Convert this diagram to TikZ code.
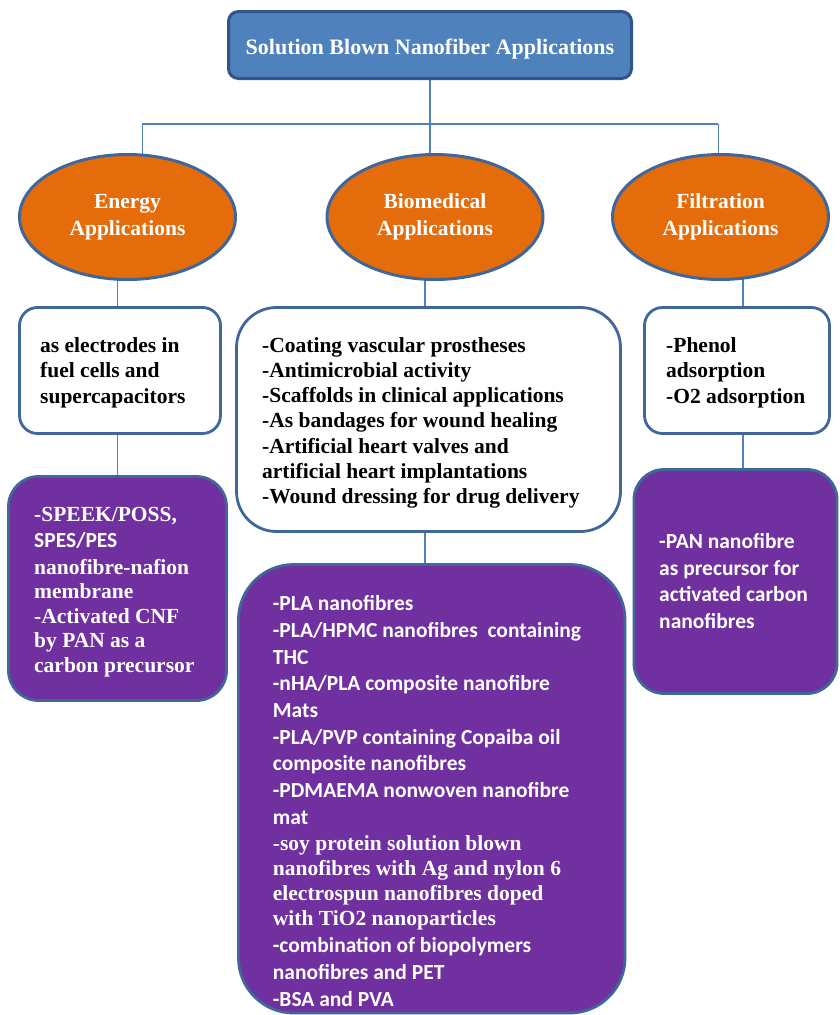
\documentclass[tikz,border=0pt]{standalone}
\usepackage{fontspec}
\setmainfont{Liberation Serif}
\newfontfamily\cali{Carlito}
\usetikzlibrary{shapes.geometric,backgrounds}
\definecolor{headblue}{HTML}{4F81BD}
\definecolor{headrim}{HTML}{30558C}
\definecolor{rim}{HTML}{41679A}
\definecolor{appor}{HTML}{E46C0A}
\definecolor{fibre}{HTML}{7030A0}
\definecolor{linkblue}{HTML}{4F81BD}
\tikzset{
    head/.style={draw=headrim,fill=headblue,line width=3pt,rounded corners=10pt,
        minimum width=403pt,minimum height=67pt,text=white,
        text height=18pt,text depth=0pt,
        font=\bfseries\fontsize{22}{26}\selectfont},
    app/.style={ellipse,draw=rim,fill=appor,line width=3pt,inner sep=0pt,
        minimum width=216pt,minimum height=125pt,text=white,align=center,
        font=\bfseries\fontsize{21.5}{26.7}\selectfont},
    usebox/.style={draw=rim,fill=white,line width=2.8pt},
    fibrebox/.style={draw=rim,fill=fibre,line width=2.8pt},
    txt/.style={anchor=base west,inner sep=0pt,align=left,
        font=\bfseries\fontsize{21.5}{25}\selectfont},
    wire/.style={draw=linkblue,line width=1.6pt}
}

\begin{document}
\begin{tikzpicture}[x=1pt,y=-1pt]
        \useasboundingbox (0,0) rectangle (839,1015);
        \clip (0,0) rectangle (839,1015);
        \node[head] (top) at (430,45) {Solution Blown Nanofiber Applications};
        \node[app] (energy) at (127.5,217) {Energy\\Applications};
        \node[app] (bio) at (435,217) {Biomedical\\Applications};
        \node[app] (filt) at (720.5,217) {Filtration\\Applications};
        \node[usebox,rounded corners=18pt,minimum width=201pt,
        minimum height=126pt] (ew) at (120,370.5) {};
        \node[usebox,rounded corners=40pt,minimum width=384pt,
        minimum height=224pt] (bw) at (428.5,419.5) {};
        \node[usebox,rounded corners=18pt,minimum width=185pt,
        minimum height=126pt] (fw) at (737,370.5) {};
        \node[fibrebox,rounded corners=30pt,minimum width=218pt,
        minimum height=224pt] (ep) at (117.5,588.5) {};
        \node[fibrebox,rounded corners=55pt,minimum width=386.5pt,
        minimum height=448.5pt] (bp) at (431.75,788.75) {};
        \node[fibrebox,rounded corners=30pt,minimum width=203pt,
        minimum height=224pt] (fp) at (735.5,581.5) {};
        \node[txt,font=\bfseries\fontsize{21.5}{25.5}\selectfont] (ewtext) at (40,403)
        {as electrodes in\\fuel cells and\\supercapacitors};
        \node[txt,font=\bfseries\fontsize{21.5}{25.3}\selectfont] (bwtext) at (262,503.8)
        {-Coating vascular prostheses\\-Antimicrobial activity\\
        -Scaffolds in clinical applications\\-As bandages for wound healing\\
        -Artificial heart valves and\\artificial heart implantations\\
        -Wound dressing for drug delivery};
        \node[txt,font=\bfseries\fontsize{21.5}{25.5}\selectfont] (fwtext) at (666,403)
        {-Phenol\\adsorption\\-O2 adsorption};
        \node[txt,text=white,font=\bfseries\fontsize{21.5}{24.5}\selectfont] (eptext) at (34,672)
        {-SPEEK/POSS,\\[1.7pt]{\cali SPES/PES}\\[1.7pt]nanofibre-nafion\\membrane\\
        -Activated CNF\\by PAN as a\\carbon precursor};
        \node[txt,text=white,font=\bfseries\fontsize{21.5}{26.7}\selectfont] (bptext) at (272.7,1006)
        {{\cali -PLA nanofibres}\\{\cali -PLA/HPMC nanofibres\ \ containing}\\
        {\cali THC}\\{\cali -nHA/PLA composite nanofibre}\\{\cali Mats}\\
        {\cali -PLA/PVP containing Copaiba oil}\\{\cali composite nanofibres}\\
        {\cali -PDMAEMA nonwoven nanofibre}\\{\cali mat}\\
        -soy protein solution blown\\[-1.7pt]nanofibres with Ag and nylon 6\\[-1.7pt]
        electrospun nanofibres doped\\[-1.7pt]with TiO2 nanoparticles\\
        {\cali -combination of biopolymers}\\{\cali nanofibres and PET}\\
        {\cali -BSA and PVA}};
        \node[txt,text=white,font=\cali\bfseries\fontsize{21.5}{26.7}\selectfont] (fptext) at (659,628.4)
        {-PAN nanofibre\\as precursor for\\activated carbon\\nanofibres};
        \begin{scope}[on background layer]
        \coordinate (busl) at (142.3,124);
        \coordinate (busr) at (718.3,124);
        \coordinate (bx) at (425,0);
        \coordinate (fx) at (742.7,0);
        \draw[wire] (top.south) -- (top.south |- bio.center);
        \draw[wire] (busl) -- (busr);
        \draw[wire] (busl) -- (busl |- energy.center);
        \draw[wire] (busr) -- (busr |- filt.center);
        \draw[wire] (ep.north) -- (ep.north |- energy.center);
        \draw[wire] (bx |- bio.center) -- (bx |- bp.north);
        \draw[wire] (fx |- filt.center) -- (fx |- fp.north);
        \end{scope}
    \end{tikzpicture}
\end{document}
